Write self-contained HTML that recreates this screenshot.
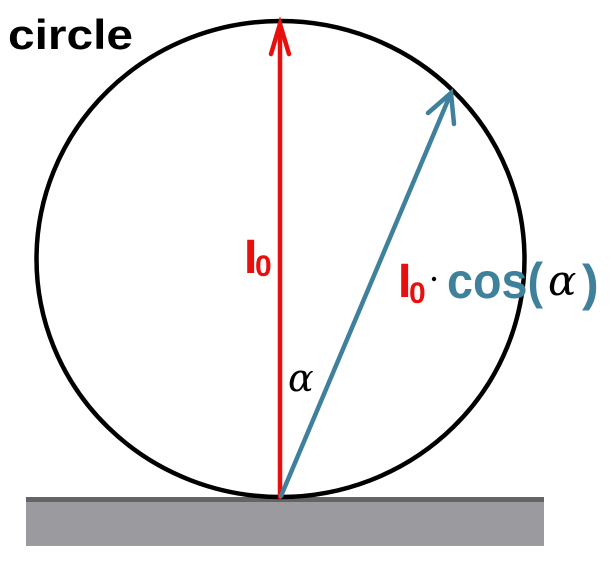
<!DOCTYPE html>
<html><head><style>body{margin:0;background:#fff}svg{display:block}</style></head><body>
<svg width="611" height="565" viewBox="0 0 611 565" xmlns="http://www.w3.org/2000/svg">
<rect x="26" y="498" width="518" height="48" fill="#9b9b9f"/>
<rect x="26" y="497" width="518" height="5" fill="#646466"/>
<ellipse cx="280.5" cy="259" rx="244" ry="238" fill="none" stroke="#000" stroke-width="4.5"/>
<g stroke="#e8100f" stroke-width="4.5" fill="none" stroke-linecap="round">
<line x1="280" y1="497" x2="280" y2="24"/>
<polyline points="271,54 280,24 289,54"/>
</g>
<g stroke="#3f819c" stroke-width="4.5" fill="none" stroke-linecap="round">
<line x1="281" y1="496" x2="451" y2="93"/>
<polyline points="428,113 451,93 454,124"/>
</g>
<text x="8" y="49" font-family="Liberation Sans, sans-serif" font-weight="bold" font-size="42" textLength="125" lengthAdjust="spacingAndGlyphs">circle</text>
<text x="244" y="273" font-family="Liberation Sans, sans-serif" font-weight="bold" font-size="48" fill="#e8100f">I</text>
<text x="255" y="276" font-family="Liberation Sans, sans-serif" font-weight="bold" font-size="30" fill="#e8100f">0</text>
<text x="398" y="297" font-family="Liberation Sans, sans-serif" font-weight="bold" font-size="48" fill="#e8100f">I</text>
<text x="409" y="303" font-family="Liberation Sans, sans-serif" font-weight="bold" font-size="30" fill="#e8100f">0</text>
<circle cx="434" cy="279" r="2.2" fill="#000"/>
<text x="447" y="298" font-family="Liberation Sans, sans-serif" font-weight="bold" font-size="50" fill="#3f819c" textLength="96" lengthAdjust="spacingAndGlyphs">cos(</text>
<text x="548" y="295" font-family="DejaVu Serif, serif" font-style="italic" font-size="42" fill="#000">α</text>
<text x="582" y="300" font-family="Liberation Sans, sans-serif" font-weight="bold" font-size="50" fill="#3f819c">)</text>
<text x="288" y="391" font-family="DejaVu Serif, serif" font-style="italic" font-size="38" fill="#000">α</text>
</svg>
</body></html>
